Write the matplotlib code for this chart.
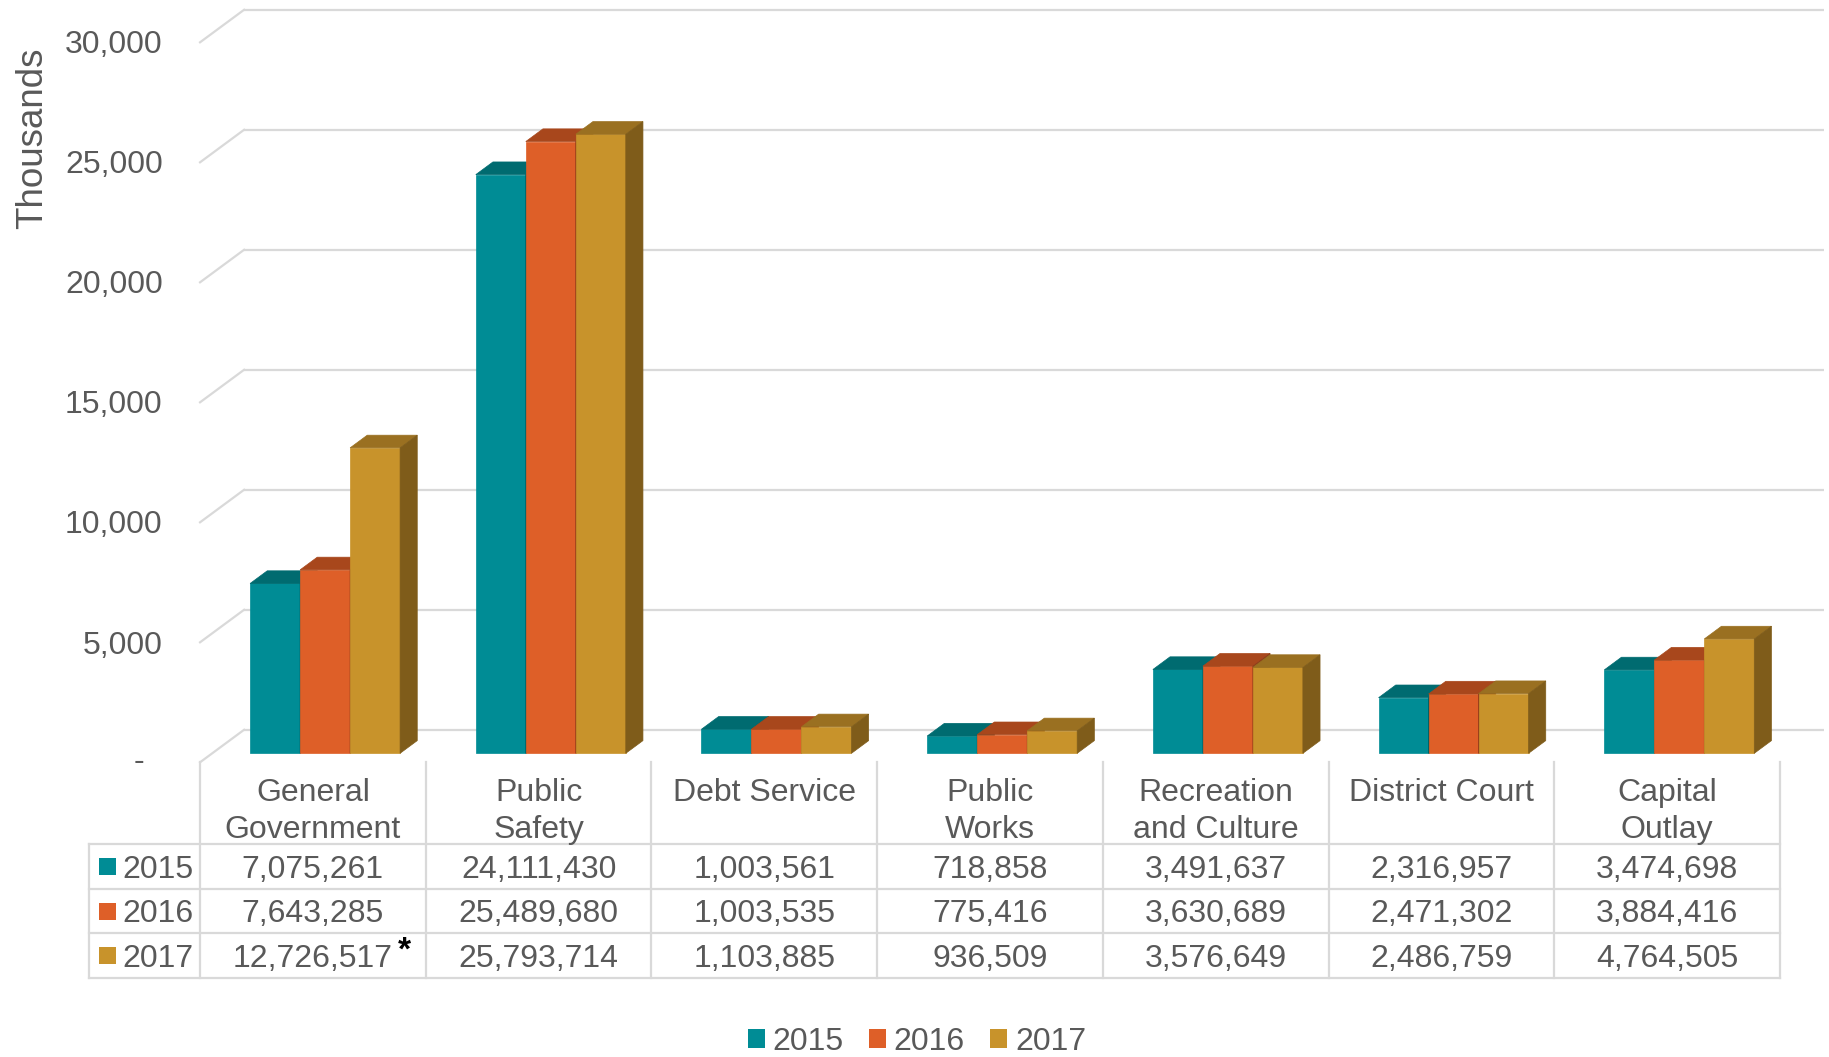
import matplotlib
matplotlib.use("Agg")
import matplotlib.pyplot as plt
from matplotlib.patches import Polygon, Patch, Rectangle

# ---------------- data ----------------
categories = ["General\nGovernment", "Public\nSafety", "Debt Service", "Public\nWorks",
              "Recreation\nand Culture", "District Court", "Capital\nOutlay"]
years = ["2015", "2016", "2017"]
v2015 = [7075261, 24111430, 1003561, 718858, 3491637, 2316957, 3474698]
v2016 = [7643285, 25489680, 1003535, 775416, 3630689, 2471302, 3884416]
v2017 = [12726517, 25793714, 1103885, 936509, 3576649, 2486759, 4764505]
series = [v2015, v2016, v2017]
yticks = [0, 5000, 10000, 15000, 20000, 25000, 30000]
ytick_labels = ["-  ", "5,000", "10,000", "15,000", "20,000", "25,000", "30,000"]
ylabel = "Thousands"
footnote_mark = "*"          # shown after General Government 2017
footnote_cell = (2, 0)       # (series index, category index)

# ---------------- style ----------------
front_c = ["#008C95", "#DE5F28", "#C8932B"]
top_c = ["#006B70", "#A8471C", "#9A7021"]
side_c = ["#005A5E", "#8A3A17", "#7F5C1A"]
grid_c = "#D9D9D9"
text_c = "#595959"
FS = 23
FS_LABEL = 26.5
plt.rcParams["font.family"] = ["Liberation Sans", "DejaVu Sans"]

W, H, DPI = 1829, 1057, 100
fig = plt.figure(figsize=(W / DPI, H / DPI), dpi=DPI)
ax = fig.add_axes([0, 0, 1, 1])
ax.axis("off")

# layout: pixel geometry of the axes scales
PX_CAT = 225.7     # px per category
X0 = 312.9         # px of category 0 centre
PX_K = 0.024       # px per thousand
Y0 = 762.3         # px (from top) of the value 0 at the floor front edge
ax.set_xlim(-X0 / PX_CAT, (W - X0) / PX_CAT)
ax.set_ylim(-(H - Y0) / PX_K, Y0 / PX_K)


def px_x(p):
    return (p - X0) / PX_CAT


def px_y(p):
    return (Y0 - p) / PX_K


CAP = 11.2               # half cap height in px (baseline offset)
DXc = 44 / PX_CAT        # depth offset, x units
DYv = 32.5 / PX_K        # depth offset, y units
Z0, ZD = 0.277, 0.39     # bar front depth & bar depth (fractions)
BW = 50 / PX_CAT         # bar width
n = len(categories)
xl_wall, xr_wall = -0.5, n - 0.5

# ---------------- walls / gridlines ----------------
for t in yticks:
    ax.plot([xl_wall + DXc, xr_wall + DXc], [t + DYv, t + DYv], color=grid_c, lw=1.6,
            zorder=1, solid_capstyle="butt")
    ax.plot([xl_wall, xl_wall + DXc], [t, t + DYv], color=grid_c, lw=1.6, zorder=1)

for t, lab in zip(yticks, ytick_labels):
    off = CAP if lab.strip() != "-" else CAP - 3
    ax.text(px_x(162.7), t - off / PX_K, lab, ha="right", va="baseline",
            fontsize=FS, color=text_c)
ax.text(px_x(32.5), px_y(138.5), ylabel, rotation=90, ha="center", va="center",
        fontsize=FS_LABEL, color=text_c)

# ---------------- 3D bars ----------------
base = Z0 * DYv
for j, vals in enumerate(series):
    h = [v / 1000 for v in vals]
    lefts = [i - 1.5 * BW + j * BW + Z0 * DXc for i in range(n)]
    ax.bar(lefts, h, width=BW, bottom=base, align="edge", color=front_c[j],
           edgecolor=front_c[j], linewidth=0.5, zorder=3 + j)
    for xl, hh in zip(lefts, h):
        ox, oy = ZD * DXc, ZD * DYv
        top = [(xl, base + hh), (xl + BW, base + hh), (xl + BW + ox, base + hh + oy),
               (xl + ox, base + hh + oy)]
        side = [(xl + BW, base), (xl + BW + ox, base + oy), (xl + BW + ox, base + hh + oy),
                (xl + BW, base + hh)]
        ax.add_patch(Polygon(top, closed=True, facecolor=top_c[j], edgecolor=top_c[j],
                             lw=0.5, zorder=3 + j))
        ax.add_patch(Polygon(side, closed=True, facecolor=side_c[j], edgecolor=side_c[j],
                             lw=0.5, zorder=3 + j))

# ---------------- data table ----------------
row_lines = [844, 889, 933.3, 977.7]
row_centers = [(a + b) / 2 for a, b in zip(row_lines[:-1], row_lines[1:])]
tbl_left = px_x(89)
for yl in row_lines:
    ax.plot([tbl_left, xr_wall], [px_y(yl), px_y(yl)], color=grid_c, lw=1.6, zorder=1,
            solid_capstyle="projecting")
for k in range(n + 1):
    xb = -0.5 + k
    ax.plot([xb, xb], [px_y(762), px_y(977.7)], color=grid_c, lw=1.6, zorder=1)
ax.plot([tbl_left, tbl_left], [px_y(844), px_y(977.7)], color=grid_c, lw=1.6, zorder=1)

header_baselines = [801, 838.3]
for i, cat in enumerate(categories):
    for li, line in enumerate(cat.split("\n")):
        ax.text(i, px_y(header_baselines[li]), line, ha="center", va="baseline",
                fontsize=FS, color=text_c)

for j, vals in enumerate(series):
    yb = px_y(row_centers[j] + CAP)
    for i, v in enumerate(vals):
        ax.text(i, yb, f"{v:,}", ha="center", va="baseline", fontsize=FS, color=text_c)
    # row header: colour key + year
    ax.add_patch(Rectangle((px_x(99), px_y(row_centers[j] + 8.5)), 16.7 / PX_CAT, 17 / PX_K,
                           facecolor=front_c[j], edgecolor="none", zorder=2))
    ax.text(px_x(122.3), yb, years[j], ha="left", va="baseline", fontsize=FS, color=text_c)

sj, si = footnote_cell
ax.text(si + 92 / PX_CAT, px_y(row_centers[sj] - 4), footnote_mark, ha="center",
        va="center", fontsize=FS + 1, fontweight="bold", color="black")

# ---------------- legend ----------------
handles = [Patch(facecolor=c, edgecolor="none") for c in front_c]
fig.legend(handles, years, ncol=3, loc="center", bbox_to_anchor=(917 / W, 1 - 1042 / H),
           frameon=False, fontsize=FS, labelcolor=text_c, handlelength=0.532,
           handleheight=0.532, handletextpad=0.24, columnspacing=0.80, borderpad=0,
           borderaxespad=0)

fig.savefig("out.png", dpi=DPI)
